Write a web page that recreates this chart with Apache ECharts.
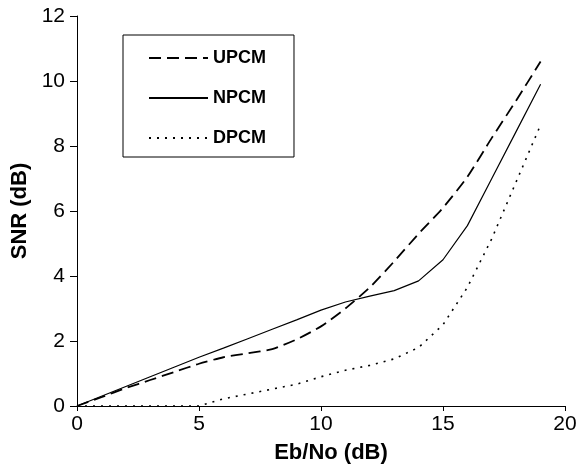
<!DOCTYPE html>
<html>
<head>
<meta charset="utf-8">
<script src="https://cdn.jsdelivr.net/npm/echarts@6/dist/echarts.min.js"></script>
<style>
html,body{margin:0;padding:0;background:#fff;}
#chart{width:580px;height:470px;}
</style>
</head>
<body>
<div id="chart"></div>
<script>
var ebno = [0,1,2,3,4,5,6,7,8,9,10,11,12,13,14,15,16,17,18,19];
var upcm = [0,0.27,0.55,0.8,1.05,1.3,1.5,1.62,1.75,2.05,2.45,3.0,3.65,4.45,5.3,6.1,7.05,8.25,9.4,10.6];
var npcm = [0,0.3,0.6,0.9,1.2,1.5,1.78,2.07,2.36,2.65,2.95,3.2,3.38,3.55,3.85,4.5,5.55,7.0,8.45,9.9];
var dpcm = [0,0,0,0,0,0,0.22,0.37,0.52,0.67,0.9,1.1,1.25,1.45,1.8,2.5,3.65,5.15,6.9,8.65];
var seriesNames = ['UPCM','NPCM','DPCM'];
var xTicks = [0,5,10,15,20];
var yTicks = [0,2,4,6,8,10,12];

function pairs(ys){ return ebno.map(function(x,i){ return [x, ys[i]]; }); }

var chart = echarts.init(document.getElementById('chart'), null, {renderer:'canvas'});
var font = 'Liberation Sans, Arial, Helvetica, sans-serif';
chart.setOption({
  animation:false,
  backgroundColor:'#fff',
  grid:{left:77,right:15,top:16,bottom:64,containLabel:false},
  legend:{
    orient:'vertical',
    left:123, top:35,
    padding:[14,28,10,25],
    itemWidth:59, itemHeight:14, itemGap:22,
    borderColor:'#000', borderWidth:1,
    data:seriesNames,
    itemStyle:{opacity:0},
    textStyle:{fontFamily:font,fontWeight:'bold',fontSize:18,color:'#000'}
  },
  xAxis:{
    type:'value', min:xTicks[0], max:xTicks[xTicks.length-1], interval:5,
    name:'Eb/No (dB)', nameLocation:'middle', nameGap:36,
    nameTextStyle:{fontFamily:font,fontWeight:'bold',fontSize:22,color:'#000',padding:[0,0,0,20]},
    axisLine:{lineStyle:{color:'#000',width:1}},
    axisTick:{show:true,length:5,lineStyle:{color:'#000'}},
    axisLabel:{fontFamily:font,fontSize:21,color:'#000',margin:8},
    splitLine:{show:false}
  },
  yAxis:{
    type:'value', min:yTicks[0], max:yTicks[yTicks.length-1], interval:2,
    name:'SNR (dB)', nameLocation:'middle', nameGap:46,
    nameTextStyle:{fontFamily:font,fontWeight:'bold',fontSize:22,color:'#000'},
    axisLine:{show:true,lineStyle:{color:'#000',width:1}},
    axisTick:{show:true,length:7,lineStyle:{color:'#000'}},
    axisLabel:{fontFamily:font,fontSize:21,color:'#000',margin:12},
    splitLine:{show:false}
  },
  series:[
    {name:seriesNames[0],type:'line',data:pairs(upcm),showSymbol:false,symbol:'none',smooth:0.2,
     lineStyle:{color:'#000',width:1.8,type:[12,6]},itemStyle:{color:'#000'}},
    {name:seriesNames[1],type:'line',data:pairs(npcm),showSymbol:false,symbol:'none',
     lineStyle:{color:'#000',width:1.2,type:'solid'},itemStyle:{color:'#000'}},
    {name:seriesNames[2],type:'line',data:pairs(dpcm),showSymbol:false,symbol:'none',
     lineStyle:{color:'#000',width:1.6,type:[2,6]},itemStyle:{color:'#000'}}
  ]
});
</script>
</body>
</html>
